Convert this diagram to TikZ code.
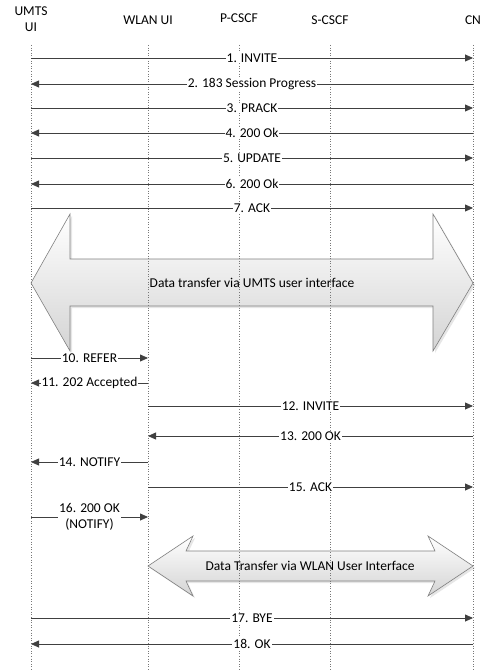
\documentclass[tikz,border=0pt]{standalone}
\usepackage{fontspec}
\setmainfont{Carlito}
\usetikzlibrary{calc,positioning,shadows,arrows.meta}
\tikzset{
    %Define standard arrow tip
    >={Triangle[length=8pt,width=7pt]}
}
\definecolor{msgline}{RGB}{64,64,64}
\definecolor{lifeline}{RGB}{120,120,120}
\definecolor{bandshade}{RGB}{212,212,212}

\begin{document}
\begin{tikzpicture}[x=1pt, y=-1pt, font=\fontsize{13.5}{15.5}\selectfont, every text node part/.style={align=center},
	lbl/.style={fill=white, inner sep=1pt},
	msg/.style={draw=msgline, line width=0.8pt, ->},
	life/.style={draw=lifeline, dotted, line width=0.6pt},
	band/.style={draw=gray, line width=0.6pt, top color=white, bottom color=bandshade, drop shadow={opacity=0.2, shadow xshift=2pt, shadow yshift=-2pt}}]

	\useasboundingbox (0,0) rectangle (481,671);

	% heads
	\node (umtshead) at (31, 19) {UMTS\\UI};
	\node (wlanhead) at (148, 20) {WLAN UI};
	\node (pcscfhead) at (239, 18) {P-CSCF};
	\node (scscfhead) at (330, 20) {S-CSCF};
	\node (cnhead) at (473, 20) {CN};

	% lifelines
	\coordinate (umts) at (31, 45);
	\coordinate (wlan) at (148, 45);
	\coordinate (pcscf) at (239, 45);
	\coordinate (scscf) at (330, 45);
	\coordinate (cn) at (473, 45);

	% data transfer bands
	\draw[band] (31,283) -- (70,214) -- (70,259) -- (433,259) -- (433,214) -- (473,283) -- (433,351) -- (433,306) -- (70,306) -- (70,351) -- cycle;
	\node (umtsdata) at (252, 283) {Data transfer via UMTS user interface};

	\draw[band] (148,566) -- (193,536) -- (186,551) -- (435,551) -- (428,536) -- (473,566) -- (428,596) -- (435,581) -- (186,581) -- (193,596) -- cycle;
	\node (wlandata) at (310, 566) {Data Transfer via WLAN User Interface};

	\draw[life] (umts) -- (umts |- 0,671);
	\draw[life] (wlan) -- (wlan |- 0,671);
	\draw[life] (pcscf) -- (pcscf |- 0,671);
	\draw[life] (scscf) -- (scscf |- 0,671);
	\draw[life] (cn) -- (cn |- 0,671);

	% messages
	\coordinate (y1) at (0, 58);
	\coordinate (y2) at (0, 84);
	\coordinate (y3) at (0, 108);
	\coordinate (y4) at (0, 133);
	\coordinate (y5) at (0, 158);
	\coordinate (y6) at (0, 184);
	\coordinate (y7) at (0, 208);
	\coordinate (y10) at (0, 358);
	\coordinate (y11) at (0, 383);
	\coordinate (y12) at (0, 406);
	\coordinate (y13) at (0, 436);
	\coordinate (y14) at (0, 462);
	\coordinate (y15) at (0, 487);
	\coordinate (y16) at (0, 517);
	\coordinate (y17) at (0, 618);
	\coordinate (y18) at (0, 644);

	\draw[msg] (umts |- y1) -- node[lbl] (m1) {1. INVITE} (cn |- y1);
	\draw[msg] (cn |- y2) -- node[lbl] (m2) {2. 183 Session Progress} (umts |- y2);
	\draw[msg] (umts |- y3) -- node[lbl] (m3) {3. PRACK} (cn |- y3);
	\draw[msg] (cn |- y4) -- node[lbl] (m4) {4. 200 Ok} (umts |- y4);
	\draw[msg] (umts |- y5) -- node[lbl] (m5) {5. UPDATE} (cn |- y5);
	\draw[msg] (cn |- y6) -- node[lbl] (m6) {6. 200 Ok} (umts |- y6);
	\draw[msg] (umts |- y7) -- node[lbl] (m7) {7. ACK} (cn |- y7);

	\draw[msg] (umts |- y10) -- node[lbl] (m10) {10. REFER} (wlan |- y10);
	\draw[msg] (wlan |- y11) -- node[lbl] (m11) {11. 202 Accepted} (umts |- y11);
	\draw[msg] (wlan |- y12) -- node[lbl] (m12) {12. INVITE} (cn |- y12);
	\draw[msg] (cn |- y13) -- node[lbl] (m13) {13. 200 OK} (wlan |- y13);
	\draw[msg] (wlan |- y14) -- node[lbl] (m14) {14. NOTIFY} (umts |- y14);
	\draw[msg] (wlan |- y15) -- node[lbl] (m15) {15. ACK} (cn |- y15);
	\draw[msg] (umts |- y16) -- node[lbl] (m16) {16. 200 OK\\(NOTIFY)} (wlan |- y16);

	\draw[msg] (umts |- y17) -- node[lbl] (m17) {17. BYE} (cn |- y17);
	\draw[msg] (cn |- y18) -- node[lbl] (m18) {18. OK} (umts |- y18);

\end{tikzpicture}
\end{document}
